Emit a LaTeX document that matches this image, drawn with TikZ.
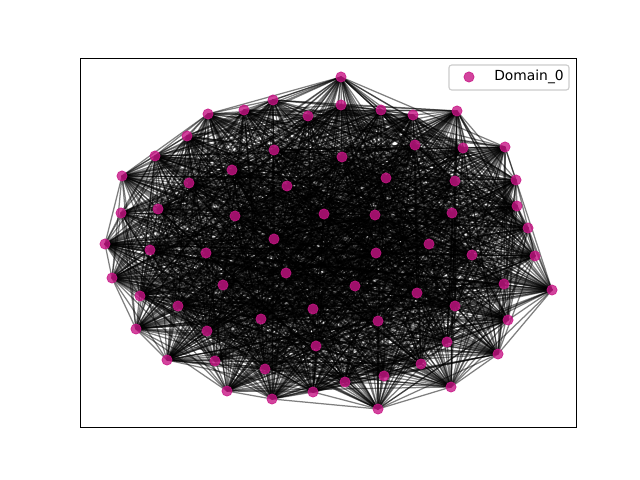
\documentclass[tikz,border=0pt]{standalone}
\usepackage{fontspec}
\setmainfont{DejaVu Sans}
\usetikzlibrary{backgrounds}
\definecolor{domainpink}{RGB}{199,21,133}
\definecolor{framegray}{RGB}{204,204,204}
\tikzset{
vertex/.style={ % Sets the look of every node marker
circle, inner sep=0pt, minimum size=7.4pt, line width=0.5pt,
fill=domainpink, draw=domainpink, fill opacity=0.8, draw opacity=0.8},
link/.style={ % Edges go under the markers, half transparent
draw=black, opacity=0.5, line width=0.9pt},
legendframe/.style={
draw=framegray, fill=white, fill opacity=0.8, line width=0.8pt,
rounded corners=2pt, minimum width=1.2in, minimum height=0.25in}}

\begin{document}
\begin{tikzpicture}[x=0.01in, y=-0.01in]
	\useasboundingbox (0,0) rectangle (640,480);
	\draw[line width=0.6pt] (80,58) rectangle (576,427);
	% nodes of the domain
	\foreach \name/\px/\py in {
		1/341/77, 2/457/111, 3/208/114, 4/244/110, 5/273/100, 6/308/116, 7/341/105,
		8/381/110, 9/413/115, 10/187/136, 11/274/150, 12/342/157, 13/415/145,
		14/463/148, 15/505/147, 16/155/156, 17/122/176, 18/232/170, 19/189/183,
		20/287/186, 21/386/178, 22/455/181, 23/516/180, 24/121/213, 25/158/209,
		26/235/216, 27/324/214, 28/375/215, 29/452/213, 30/517/206, 31/528/228,
		32/105/244, 33/150/250, 34/206/253, 35/274/239, 36/376/253, 37/429/244,
		38/472/255, 39/535/256, 40/112/278, 41/223/285, 42/286/273, 43/355/286,
		44/504/284, 45/552/290, 46/140/296, 47/178/306, 48/417/293, 49/455/306,
		50/313/309, 51/261/319, 52/378/321, 53/508/320, 54/136/329, 55/207/331,
		56/447/342, 57/316/346, 58/498/354, 59/167/360, 60/215/361, 61/265/369,
		62/421/364, 63/384/376, 64/345/382, 65/451/387, 66/227/391, 67/272/399,
		68/313/392, 69/378/409}
		\node[vertex] (v\name) at (\px,\py) {};
	% edges, most of the pairs
	\begin{pgfonlayer}{background}
	\pgfmathsetseed{7}
	\foreach \i in {1,...,68}{
		\pgfmathtruncatemacro{\nxt}{\i+1}
		\foreach \j in {\nxt,...,69}{
			\pgfmathtruncatemacro{\keep}{rnd<0.7}
			\ifnum\keep=1 \draw[link] (v\i.center) -- (v\j.center); \fi
		}}
	\end{pgfonlayer}
	% legend
	\node[legendframe] (legend) at (509,77.5) {};
	\node[vertex] (key) at (469,77) {};
	\node[anchor=west, inner sep=0pt, font=\fontsize{10pt}{12pt}\selectfont] (label) at (494,77) {Domain\_0};
\end{tikzpicture}
\end{document}
